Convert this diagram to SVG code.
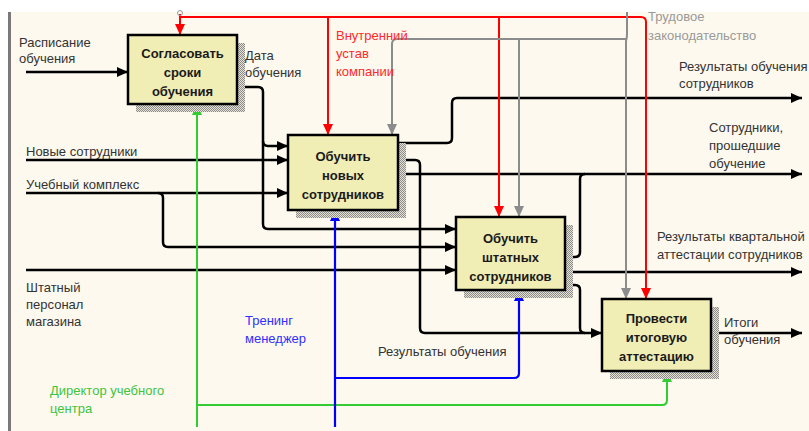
<svg xmlns="http://www.w3.org/2000/svg" width="809" height="431" viewBox="0 0 809 431">
  <defs>
    <pattern id="hatch" width="2" height="2" patternUnits="userSpaceOnUse">
      <rect width="2" height="2" fill="#e6e2d6"/>
      <rect width="1" height="1" fill="#8a8a8a"/>
      <rect x="1" y="1" width="1" height="1" fill="#8a8a8a"/>
    </pattern>
    <marker id="ah-black" markerUnits="userSpaceOnUse" markerWidth="11" markerHeight="10" refX="11" refY="5" orient="auto">
      <path d="M0,0 L11,5 L0,10 z" fill="#000"/>
    </marker>
    <marker id="ah-red" markerUnits="userSpaceOnUse" markerWidth="11" markerHeight="10" refX="11" refY="5" orient="auto">
      <path d="M0,0 L11,5 L0,10 z" fill="#ff0000"/>
    </marker>
    <marker id="ah-gray" markerUnits="userSpaceOnUse" markerWidth="11" markerHeight="10" refX="11" refY="5" orient="auto">
      <path d="M0,0 L11,5 L0,10 z" fill="#8c8c8c"/>
    </marker>
    <marker id="ah-green" markerUnits="userSpaceOnUse" markerWidth="11" markerHeight="10" refX="11" refY="5" orient="auto">
      <path d="M0,0 L11,5 L0,10 z" fill="#33cc33"/>
    </marker>
    <marker id="ah-blue" markerUnits="userSpaceOnUse" markerWidth="11" markerHeight="10" refX="11" refY="5" orient="auto">
      <path d="M0,0 L11,5 L0,10 z" fill="#0000ff"/>
    </marker>
  </defs>
  <style>
    .box { fill: #f0edb5; stroke: #000; stroke-width: 2.5; }
    .shadow { fill: url(#hatch); }
    .btxt { font-family: "Liberation Sans", Arial, sans-serif; font-size: 13px; font-weight: bold; fill: #1a1a1a; text-anchor: middle; }
    .lbl { font-family: "Liberation Sans", Arial, sans-serif; font-size: 13px; fill: #333; }
    .c-red { fill: #ff2a2a; }
    .c-gray { fill: #9a9a9a; }
    .c-green { fill: #3ec43e; }
    .c-blue { fill: #3030ff; }
    .k { fill: none; stroke: #000; stroke-width: 2.5; }
    .r { fill: none; stroke: #ff0000; stroke-width: 2; }
    .g { fill: none; stroke: #8c8c8c; stroke-width: 2; }
    .gr { fill: none; stroke: #33cc33; stroke-width: 2; }
    .b { fill: none; stroke: #0000ff; stroke-width: 2.2; }
  </style>

  <!-- page -->
  <rect width="809" height="431" fill="#ffffff"/>
  <rect x="8" y="12" width="801" height="419" fill="#fdf9ee"/>
  <rect x="8" y="12" width="3" height="419" fill="#7a7a7a"/>

  <!-- connectors -->
  <g id="connectors">
    <!-- inputs -->
    <path class="k" d="M26,72 H128" marker-end="url(#ah-black)"/>
    <path class="k" d="M26,160 H288" marker-end="url(#ah-black)"/>
    <path class="k" d="M26,193 H288" marker-end="url(#ah-black)"/>
    <path class="k" d="M158,193 Q163,193 163,198 V242 Q163,247 168,247 H456" marker-end="url(#ah-black)"/>
    <path class="k" d="M26,270 H456" marker-end="url(#ah-black)"/>
    <!-- date of training -->
    <path class="k" d="M237,87 H258 Q263,87 263,92 V224 Q263,229 268,229 H456" marker-end="url(#ah-black)"/>
    <path class="k" d="M263,141 Q263,146 268,146 H288" marker-end="url(#ah-black)"/>
    <!-- outputs of new-staff training -->
    <path class="k" d="M398,143 H447 Q452,143 452,138 V103 Q452,98 457,98 H802" marker-end="url(#ah-black)"/>
    <path class="k" d="M398,160 H415 Q420,160 420,165 V328 Q420,333 425,333 H602" marker-end="url(#ah-black)"/>
    <path class="k" d="M398,174 H802" marker-end="url(#ah-black)"/>
    <!-- outputs of staff training -->
    <path class="k" d="M565,257 H575 Q580,257 580,252 V179 Q580,174 585,174"/>
    <path class="k" d="M565,272 H802" marker-end="url(#ah-black)"/>
    <path class="k" d="M565,285 H575 Q580,285 580,290 V328 Q580,333 585,333"/>
    <!-- final output -->
    <path class="k" d="M711,333 H802" marker-end="url(#ah-black)"/>

    <!-- internal regulations -->
    <path class="r" d="M180,14 V35" marker-end="url(#ah-red)"/>
    <path class="r" d="M180,17 H641 Q646,17 646,22 V299" marker-end="url(#ah-red)"/>
    <path class="r" d="M328,17 V135" marker-end="url(#ah-red)"/>
    <path class="r" d="M499,17 V217" marker-end="url(#ah-red)"/>
    <circle cx="180" cy="13" r="2.5" fill="none" stroke="#999" stroke-width="1"/>

    <!-- labour law -->
    <path class="g" d="M627,12 V34 Q627,38 626,41 V299" marker-end="url(#ah-gray)"/>
    <path class="g" d="M626,39 H397 Q392,39 392,44 V135" marker-end="url(#ah-gray)"/>
    <path class="g" d="M519,39 V217" marker-end="url(#ah-gray)"/>

    <!-- training centre director -->
    <path class="gr" d="M197,427 V104" marker-end="url(#ah-green)"/>
    <path class="gr" d="M197,405 H662 Q667,405 667,400 V371" marker-end="url(#ah-green)"/>

    <!-- training manager -->
    <path class="b" d="M335,427 V210" marker-end="url(#ah-blue)"/>
    <path class="b" d="M335,378 H514 Q519,378 519,373 V290" marker-end="url(#ah-blue)"/>
  </g>

  <!-- activity boxes -->
  <g id="node-agree">
    <rect class="shadow" x="136" y="43" width="109" height="69"/>
    <rect class="box" x="128" y="35" width="109" height="69"/>
    <text class="btxt" x="182.5" y="58">Согласовать</text>
    <text class="btxt" x="182.5" y="77">сроки</text>
    <text class="btxt" x="182.5" y="96">обучения</text>
  </g>
  <g id="node-train-new">
    <rect class="shadow" x="296" y="143" width="110" height="75"/>
    <rect class="box" x="288" y="135" width="110" height="75"/>
    <text class="btxt" x="343" y="161">Обучить</text>
    <text class="btxt" x="343" y="180">новых</text>
    <text class="btxt" x="343" y="199">сотрудников</text>
  </g>
  <g id="node-train-staff">
    <rect class="shadow" x="464" y="225" width="109" height="73"/>
    <rect class="box" x="456" y="217" width="109" height="73"/>
    <text class="btxt" x="510.5" y="243">Обучить</text>
    <text class="btxt" x="510.5" y="262">штатных</text>
    <text class="btxt" x="510.5" y="281">сотрудников</text>
  </g>
  <g id="node-attest">
    <rect class="shadow" x="610" y="307" width="109" height="72"/>
    <rect class="box" x="602" y="299" width="109" height="72"/>
    <text class="btxt" x="656.5" y="323">Провести</text>
    <text class="btxt" x="656.5" y="342">итоговую</text>
    <text class="btxt" x="656.5" y="361">аттестацию</text>
  </g>

  <!-- arrow labels -->
  <g id="labels">
    <text class="lbl" x="19" y="47">Расписание</text>
    <text class="lbl" x="19" y="63">обучения</text>
    <text class="lbl" x="245" y="60">Дата</text>
    <text class="lbl" x="245" y="77">обучения</text>
    <text class="lbl" x="26" y="156">Новые сотрудники</text>
    <text class="lbl" x="26" y="189">Учебный комплекс</text>
    <text class="lbl" x="26" y="292">Штатный</text>
    <text class="lbl" x="26" y="309">персонал</text>
    <text class="lbl" x="26" y="326">магазина</text>
    <text class="lbl c-red" x="336" y="40">Внутренний</text>
    <text class="lbl c-red" x="336" y="58">устав</text>
    <text class="lbl c-red" x="336" y="76">компании</text>
    <text class="lbl c-gray" x="648" y="21">Трудовое</text>
    <text class="lbl c-gray" x="648" y="40">законодательство</text>
    <text class="lbl" x="679" y="71">Результаты обучения</text>
    <text class="lbl" x="679" y="88">сотрудников</text>
    <text class="lbl" x="709" y="132">Сотрудники,</text>
    <text class="lbl" x="709" y="150">прошедшие</text>
    <text class="lbl" x="709" y="168">обучение</text>
    <text class="lbl" x="657" y="241">Результаты квартальной</text>
    <text class="lbl" x="657" y="259">аттестации сотрудников</text>
    <text class="lbl" x="724" y="327">Итоги</text>
    <text class="lbl" x="724" y="344">обучения</text>
    <text class="lbl" x="378" y="356">Результаты обучения</text>
    <text class="lbl c-blue" x="245" y="325">Тренинг</text>
    <text class="lbl c-blue" x="245" y="343">менеджер</text>
    <text class="lbl c-green" x="50" y="395">Директор учебного</text>
    <text class="lbl c-green" x="50" y="413">центра</text>
  </g>
</svg>
